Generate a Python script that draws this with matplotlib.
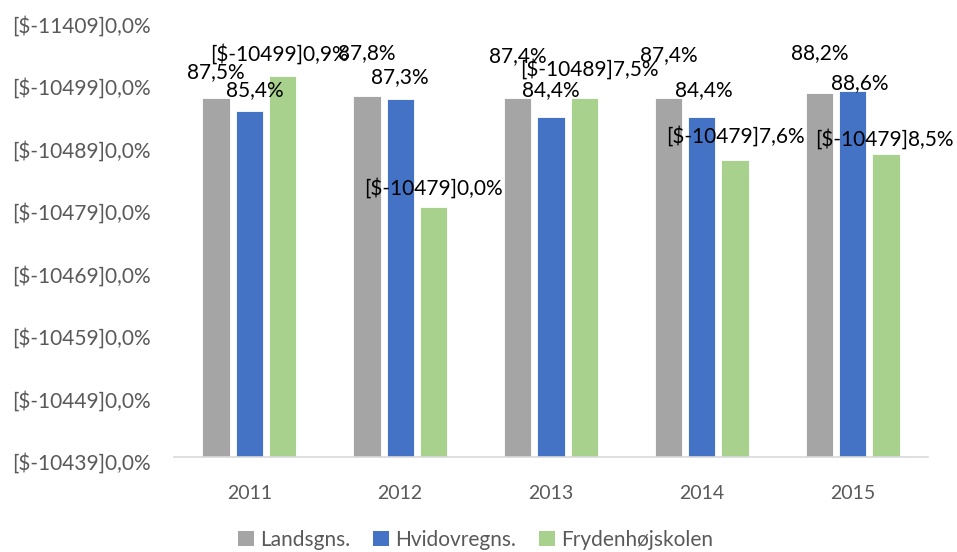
import numpy as np
import matplotlib.pyplot as plt
from matplotlib.patches import Patch
from matplotlib.transforms import ScaledTranslation

plt.rcParams['font.family'] = ['Lato', 'DejaVu Sans']

YEARS = ["2011", "2012", "2013", "2014", "2015"]
SERIES = ["Landsgns.", "Hvidovregns.", "Frydenhøjskolen"]
LANDSGNS = [87.5, 87.8, 87.4, 87.4, 88.2]
HVIDOVRE = [85.4, 87.3, 84.4, 84.4, 88.6]
FRYDENHOJ = [90.9, 70.0, 87.5, 77.6, 78.5]
Y_TICKS = [30, 40, 50, 60, 70, 80, 90, 100]

COLORS = ["#A5A5A5", "#4472C4", "#A9D18E"]
# label offsets above the bar top, in pixels (labels were nudged by hand in the original)
LABEL_DY = [
    [26, 43, 42, 43, 40],
    [21, 22, 27, 27, 8],
    [22, 19, 28, 23, 15],
]
LABEL_DX = [
    [0, 0, 0, 0, 0],
    [5, 0, 0, 2, 7],
    [-3, 0, 5, 0, -2],
]


def pct(v):
    return f"{v:.1f}".replace(".", ",") + "%"


def broken_pct(v):
    # the original workbook had a mangled "[$-10409]0,0%" number format
    s = f"{v:05.1f}"
    return f"[$-1{s[0]}4{s[1]}9]{s[2]},{s[4]}%"


def main():
    fig = plt.figure(figsize=(9.57, 5.52), dpi=100)
    ax = fig.add_axes([0.1818, 0.1721, 0.7879, 0.7925])

    x = np.arange(len(YEARS))
    step, width = 0.221, 0.181
    all_series = [LANDSGNS, HVIDOVRE, FRYDENHOJ]
    formats = [pct, pct, broken_pct]
    for k, vals in enumerate(all_series):
        pos = x + (k - 1) * step
        ax.bar(pos, vals, width, color=COLORS[k], edgecolor="white", linewidth=0.6, zorder=2)
        for i, v in enumerate(vals):
            ax.annotate(formats[k](v), (pos[i], v), xytext=(LABEL_DX[k][i], LABEL_DY[k][i]),
                        textcoords="offset pixels", ha="center", va="center",
                        fontsize=15, color="black", zorder=3)

    ax.set_xlim(-0.5, len(YEARS) - 0.5)
    ax.set_ylim(30, 100)
    ax.set_xticks(x, YEARS)
    ax.set_yticks(Y_TICKS, [broken_pct(t) for t in Y_TICKS])
    ax.tick_params(axis="y", length=0, pad=16.5, labelsize=15, labelcolor="#595959")
    ax.tick_params(axis="x", length=0, pad=20, labelsize=14, labelcolor="#595959")
    shift = ScaledTranslation(0, -4.5 / 100, fig.dpi_scale_trans)
    for lbl in ax.get_yticklabels():
        lbl.set_transform(lbl.get_transform() + shift)

    for side in ["top", "right", "left"]:
        ax.spines[side].set_visible(False)
    ax.spines["bottom"].set_color("#D9D9D9")
    ax.spines["bottom"].set_linewidth(1.2)

    handles = [Patch(facecolor=c, edgecolor="none") for c in COLORS]
    leg = fig.legend(handles, SERIES, loc="center", bbox_to_anchor=(0.497, 1 - 540 / 552),
                     ncol=3, frameon=False, fontsize=15, handlelength=0.75, handleheight=0.75,
                     handletextpad=0.3, columnspacing=1.1)
    for t in leg.get_texts():
        t.set_color("#595959")

    fig.savefig("out.png", dpi=100)


if __name__ == "__main__":
    main()
